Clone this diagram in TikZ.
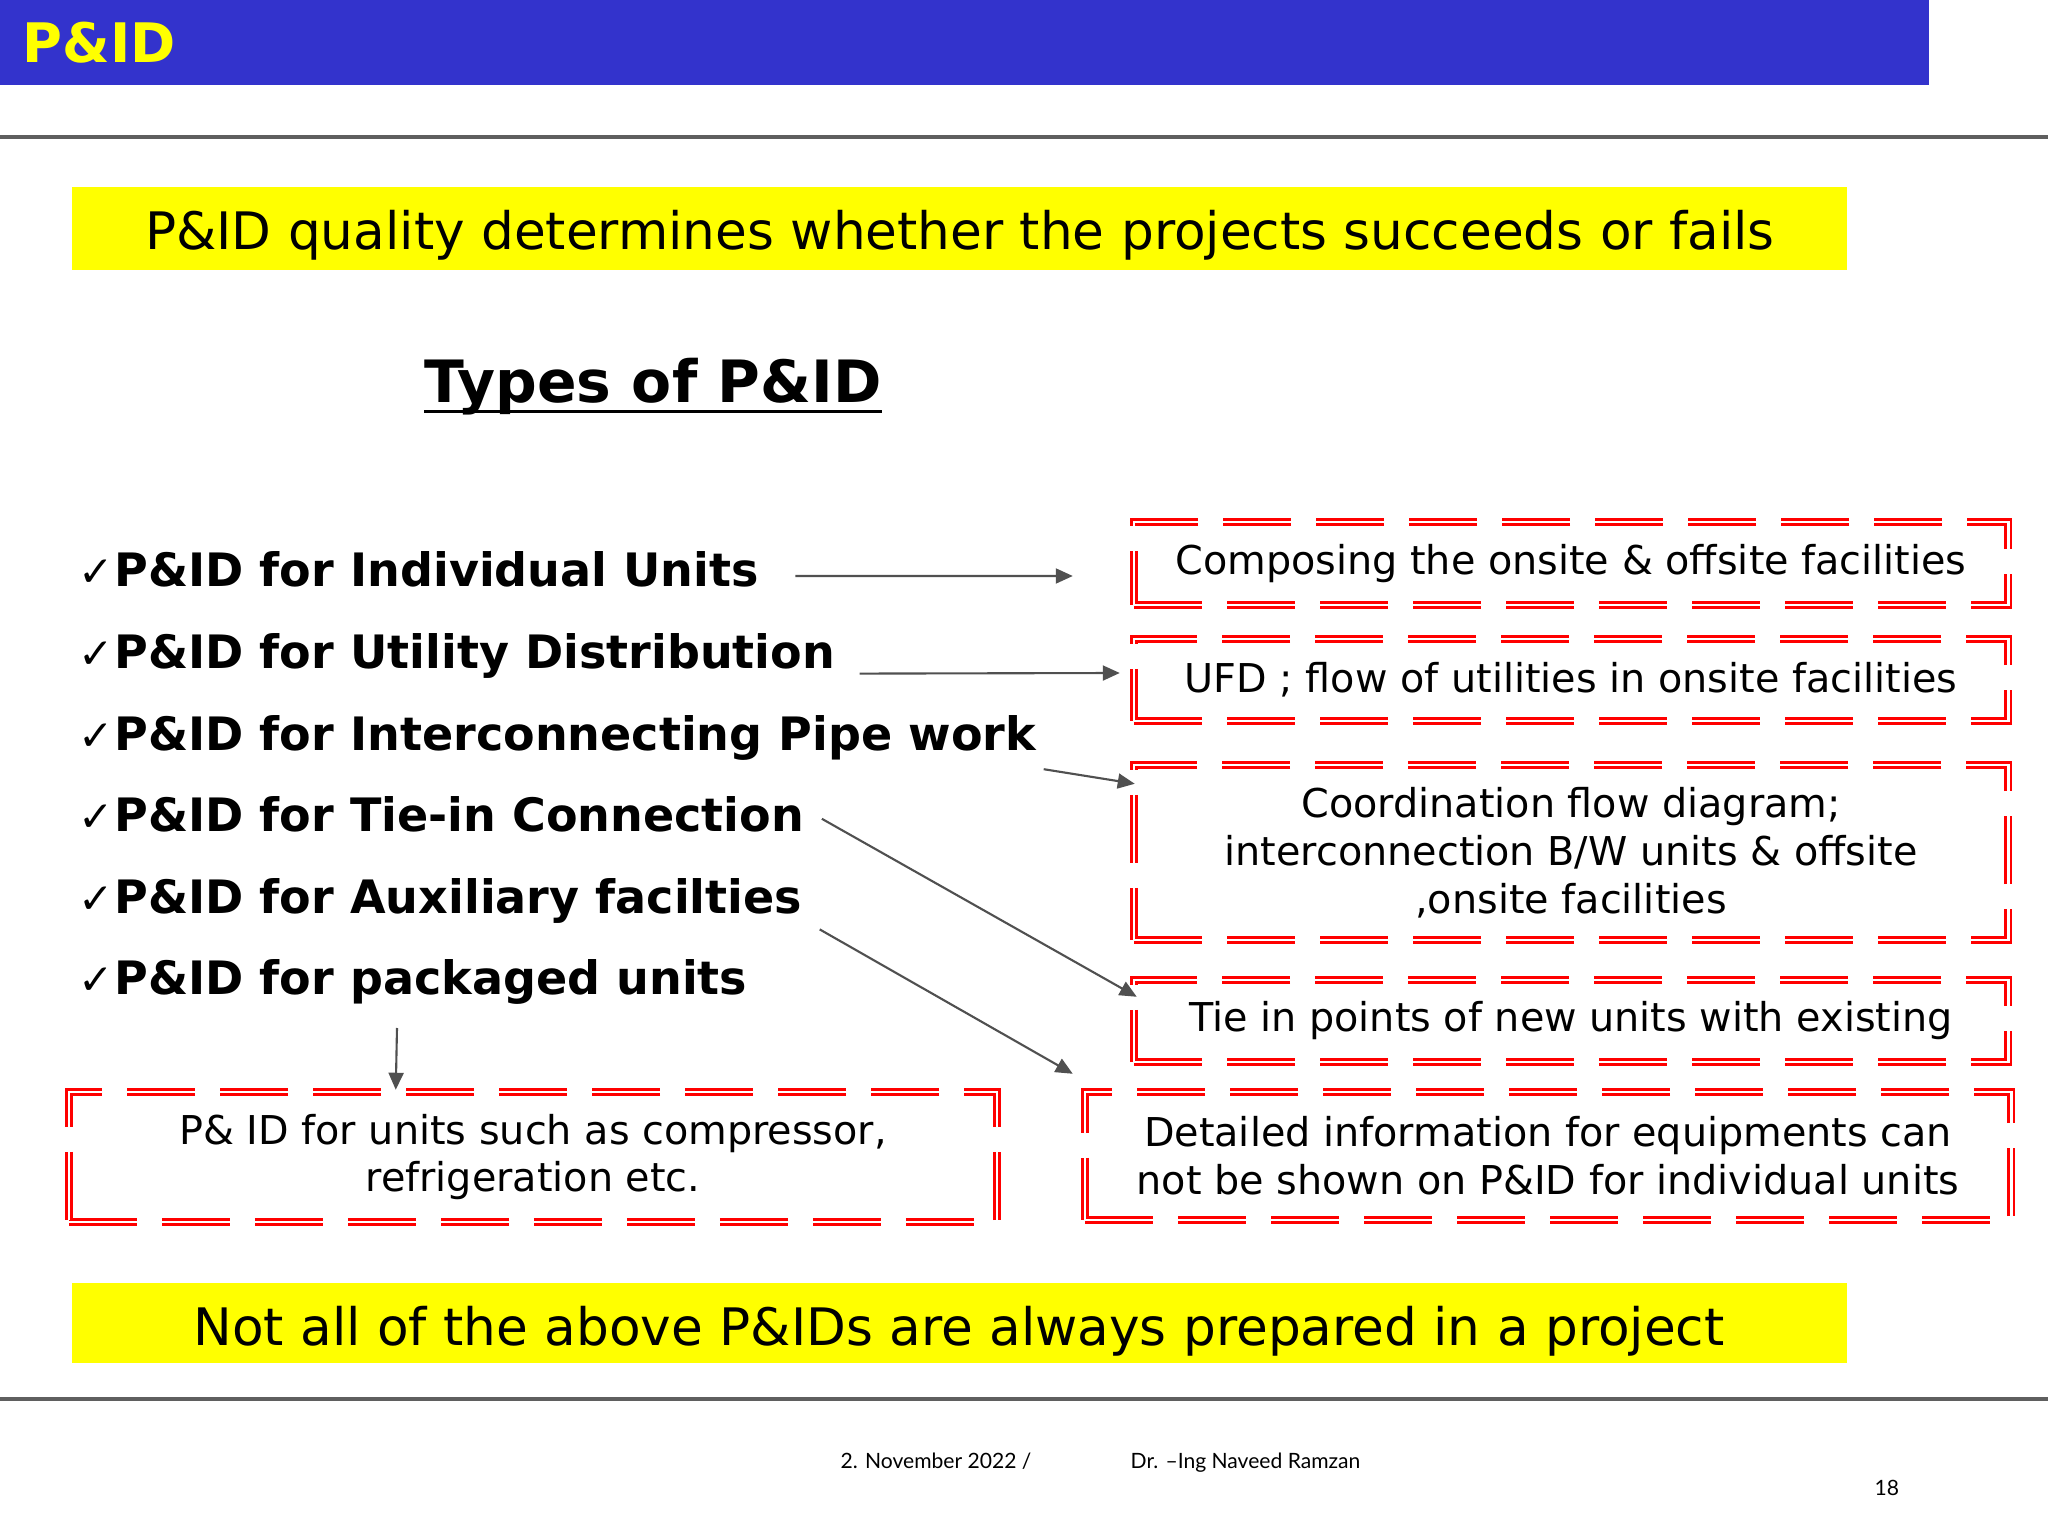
\documentclass[tikz,border=0pt]{standalone}
\usepackage{fontspec}
\setmainfont{DejaVu Sans}
\newfontfamily\footfont{Lato}
\usepackage{tikz}
\usetikzlibrary{calc,arrows.meta}

\definecolor{barblue}{RGB}{51,51,204}
\definecolor{hiyellow}{RGB}{255,255,0}
\definecolor{linegray}{RGB}{95,95,95}
\definecolor{arrgray}{RGB}{80,80,80}

\tikzset{
  redbox/.style={draw=red,line width=0.7pt,double=white,double distance=0.85pt,dash pattern=on 0.68cm off 0.25cm,align=center,inner sep=0pt,font=\fontsize{11.3}{13.6}\selectfont},
  item/.style={anchor=base west,inner sep=0pt,font=\bfseries\fontsize{13.1}{15}\selectfont},
  conn/.style={-{Triangle[length=0.17cm,width=0.15cm]},arrgray,line width=0.6pt},
  banner/.style={anchor=base,inner sep=0pt,font=\fontsize{14.7}{17}\selectfont},
  foot/.style={anchor=base west,inner sep=0pt,font=\footfont\fontsize{6}{7}\selectfont}
}

\begin{document}
\begin{tikzpicture}
              \useasboundingbox (0,0) rectangle (20.48,-15.36);
              \fill[white] (0,0) rectangle (20.48,-15.36);
              \fill[barblue] (0,0) rectangle (19.29,-0.85);
              \node[anchor=base west,inner sep=0pt,text=hiyellow,font=\bfseries\fontsize{15.5}{18}\selectfont] (hdr) at (0.22,-0.63) {P\&ID};
              \draw[linegray,line width=0.9pt] (0,-1.37) -- (20.48,-1.37);
              \fill[hiyellow] (0.72,-1.87) rectangle (18.47,-2.70);
              \node[banner] (top) at (9.6,-2.50) {P\&ID quality determines whether the projects succeeds or fails};
              \node[anchor=base west,inner sep=0pt,font=\bfseries\fontsize{16.6}{19}\selectfont] (ttl) at (4.24,-4.03) {Types of P\&ID};
              \draw[line width=1.1pt] ([yshift=-0.085cm]ttl.base west) -- ([yshift=-0.085cm]ttl.base east);
              \foreach \t [count=\i] in {Individual Units, Utility Distribution, Interconnecting Pipe work, Tie-in Connection, Auxiliary facilties, packaged units}
                \node[item] (i\i) at (0.78,{-5.87-0.816*(\i-1)}) {\makebox[0.36cm][l]{\mdseries\fontsize{12}{14}\selectfont ✓}P\&ID for \t};
              \node[redbox,minimum width=8.74cm,minimum height=0.83cm] (bxA) at (15.71,-5.635) {Composing the onsite \& offsite facilities};
              \node[redbox,minimum width=8.74cm,minimum height=0.82cm] (bxB) at (15.71,-6.80) {UFD ; flow of utilities in onsite facilities};
              \node[redbox,minimum width=8.74cm,minimum height=1.75cm] (bxC) at (15.71,-8.525) {Coordination flow diagram;\\interconnection B/W units \& offsite\\,onsite facilities};
              \node[redbox,minimum width=8.74cm,minimum height=0.82cm] (bxD) at (15.71,-10.21) {Tie in points of new units with existing};
              \node[redbox,minimum width=9.26cm,minimum height=1.28cm] (bxE) at (15.48,-11.56) {Detailed information for equipments can\\not be shown on P\&ID for individual units};
              \node[redbox,minimum width=9.28cm,minimum height=1.30cm] (bxF) at (5.33,-11.57) {P\& ID for units such as compressor,\\refrigeration etc.};
              \draw[conn] ($(i1.base east)+(0.36,0.11)$) -- ($(bxA.west)+(-0.60,-0.125)$);
              \draw[conn] ($(i2.base east)+(0.24,-0.05)$) -- ($(bxB.west)+(-0.13,0.07)$);
              \draw[conn] ($(i3.base east)+(0.07,-0.19)$) -- ($(bxC.north west)+(0.02,-0.20)$);
              \draw[conn] ($(i4.base east)+(0.17,0.13)$) -- ($(bxD.north west)+(0.04,-0.18)$);
              \draw[conn] ($(i5.base east)+(0.17,-0.16)$) -- ($(bxE.north west)+(-0.11,0.17)$);
              \draw[conn] ($(i6.base west)+(3.19,-0.33)$) -- ($(bxF.north west)+(3.28,0.01)$);
              \fill[hiyellow] (0.72,-12.83) rectangle (18.47,-13.63);
              \node[banner] (bot) at (9.59,-13.45) {Not all of the above P\&IDs are always prepared in a project};
              \draw[linegray,line width=0.9pt] (0,-13.99) -- (20.48,-13.99);
              \node[foot] (date) at (8.40,-14.68) {2. November 2022 /};
              \node[foot] (auth) at (11.30,-14.68) {Dr. –Ing Naveed Ramzan};
              \node[foot] (pg) at (18.74,-14.95) {18};
            \end{tikzpicture}
\end{document}
